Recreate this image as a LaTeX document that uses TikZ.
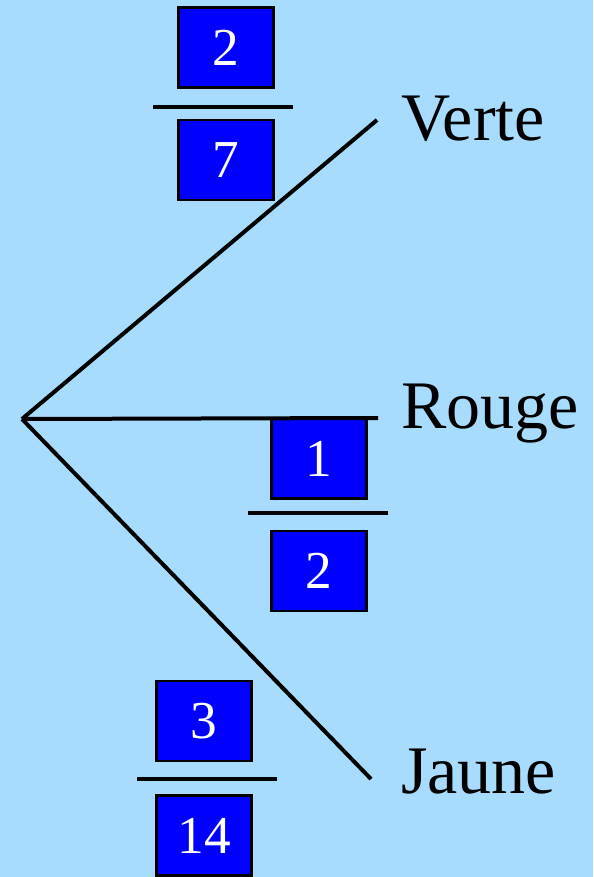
\documentclass[tikz,border=0pt]{standalone}
\usepackage{fontspec}
\setmainfont{Liberation Serif}
\definecolor{ciel}{RGB}{168,220,255}
\definecolor{bleu}{RGB}{0,0,255}

\begin{document}
\begin{tikzpicture}[x=0.75pt,y=-0.75pt,
    num/.style={draw=black,line width=2.2pt,fill=bleu,text=white,
      minimum width=71pt,minimum height=60pt,inner sep=0pt,
      font=\fontsize{40}{40}\selectfont},
    barre/.style={line width=3.6pt},
    branche/.style={line width=3pt},
    issue/.style={anchor=base west,inner sep=0pt,
      font=\fontsize{51}{51}\selectfont}]
  \fill [ciel] (0,0) rectangle (593,877);
  \useasboundingbox (0,0) rectangle (593,877);

  % racine et issues
  \coordinate (R) at (22,419);
  \coordinate (V) at (377,120);
  \coordinate (Ro) at (378,418);
  \coordinate (J) at (371,779);
  \node [issue] (verte) at (401,141) {Verte};
  \node [issue] (rouge) at (401,428) {Rouge};
  \node [issue] (jaune) at (401,793) {Jaune};

  % probabilites
  \node [num] (N1) at (226,47.5) {2};
  \node [num] (D1) at (226,160) {7};
  \draw [barre] (153,107) -- (293,107);
  \node [num] (N2) at (319,458.5) {1};
  \node [num] (D2) at (319,571) {2};
  \draw [barre] (248,513) -- (388,513);
  \node [num] (N3) at (204,721) {3};
  \node [num] (D3) at (204,835.5) {14};
  \draw [barre] (137,779) -- (277,779);

  \draw [branche] (R) -- (V);
  \draw [branche] (R) -- (Ro);
  \draw [branche] (R) -- (J);
\end{tikzpicture}
\end{document}
